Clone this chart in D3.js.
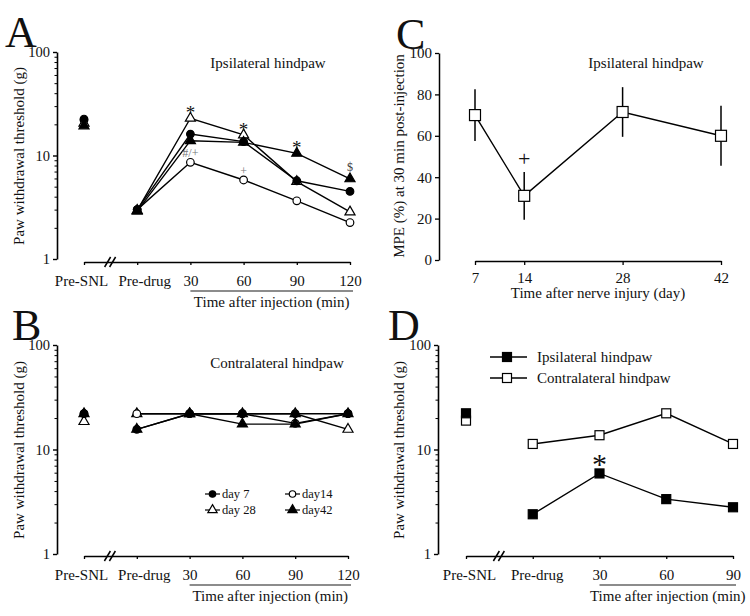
<!DOCTYPE html>
<html><head><meta charset="utf-8">
<script src="https://cdn.jsdelivr.net/npm/d3@7"></script>
<style>
body{margin:0;background:#fff}
svg text{font-family:"Liberation Serif","Times New Roman",serif;fill:#111}
</style>
</head><body>
<svg id="chart" width="750" height="616"></svg>
<script>
// ---------------- DATA ----------------
const catsA = ["Pre-SNL","Pre-drug","30","60","90","120"];
const catsD = ["Pre-SNL","Pre-drug","30","60","90"];
const seriesNames = ["day 7","day14","day 28","day42"];
const seriesSymbols = ["circleFilled","circleOpen","triOpen","triFilled"];

// Panel A: ipsilateral paw withdrawal threshold (g)
const ipsiDay7  = [22.5, 3.0, 16.1, 13.6, 5.7, 4.5];
const ipsiDay14 = [22.0, 3.0, 8.6, 5.8, 3.65, 2.25];
const ipsiDay28 = [20.5, 2.95, 22.9, 15.8, 5.6, 2.85];
const ipsiDay42 = [19.3, 2.9, 13.9, 13.4, 10.5, 5.95];

// Panel B: contralateral paw withdrawal threshold (g)
const contraDay7  = [22.0, 15.6, 22.0, 22.0, 22.0, 22.0];
const contraDay14 = [22.0, 22.0, 22.0, 22.0, 17.8, 22.0];
const contraDay28 = [18.5, 22.0, 22.0, 22.0, 22.0, 15.6];
const contraDay42 = [22.0, 15.6, 22.0, 17.5, 17.5, 22.0];

// Panel C: MPE (%) at 30 min
const daysC = [7, 14, 28, 42];
const mpeC = [70, 31, 71.5, 60];
const semC = [12.5, 11.5, 12, 14.5];

// Panel D
const dIpsi   = [22.2, 2.4, 5.9, 3.35, 2.8];
const dContra = [18.9, 11.3, 13.7, 22.2, 11.3];
const dNames = ["Ipsilateral hindpaw","Contralateral hindpaw"];

// annotations (label, category, series value it sits above)
const annotA = [
  {cat:"30", v:22.9, label:"*", kind:"star"},
  {cat:"60", v:15.8, label:"*", kind:"star"},
  {cat:"90", v:10.5, label:"*", kind:"star"},
  {cat:"120", v:5.95, label:"$", kind:"small"},
  {cat:"30", v:8.6, label:"#/+", kind:"gray"},
  {cat:"60", v:5.8, label:"+", kind:"gray"}
];
const annotC = [{day:14, v:31+11.5, label:"+"}];
const annotD = [{cat:"30", v:5.9, label:"*"}];

const yTicksLog = [1, 10, 100];
const yTicksC = [0, 20, 40, 60, 80, 100];

// ---------------- DRAWING ----------------
const svg = d3.select("#chart");
const FS = 15;

function marker(g, type, x, y, big) {
  const sz = big || 1;
  if (type.startsWith("circle")) {
    g.append("circle").attr("cx", x).attr("cy", y).attr("r", 3.8*sz)
      .attr("fill", type === "circleFilled" ? "#000" : "#fff")
      .attr("stroke", "#000").attr("stroke-width", 1.2);
  } else if (type.startsWith("tri")) {
    g.append("path").attr("d", d3.symbol(d3.symbolTriangle, 44*sz)())
      .attr("transform", `translate(${x},${y})`)
      .attr("fill", type === "triFilled" ? "#000" : "#fff")
      .attr("stroke", "#000").attr("stroke-width", 1.2);
  } else if (type.startsWith("sq")) {
    const s = 9*sz;
    g.append("rect").attr("x", x - s/2).attr("y", y - s/2).attr("width", s).attr("height", s)
      .attr("fill", type === "sqFilled" ? "#000" : "#fff")
      .attr("stroke", "#000").attr("stroke-width", 1.2);
  }
}

function logYAxis(g, y, xAxisPos) {
  const ax = g.append("g").attr("transform", `translate(${xAxisPos},0)`)
    .call(d3.axisLeft(y).tickValues(yTicksLog).tickFormat(d3.format("d")).tickSize(4).tickSizeOuter(0).tickPadding(3));
  ax.selectAll("text").style("font-size", "14.5px");
  ax.select(".domain").attr("stroke-width", 1.6);
  ax.selectAll(".tick line").attr("stroke-width", 1.4);
  const minor = [];
  [1, 10].forEach(b => { for (let k = 2; k <= 9; k++) minor.push(b*k); });
  const mx = g.append("g").attr("transform", `translate(${xAxisPos},0)`)
    .call(d3.axisLeft(y).tickValues(minor).tickFormat("").tickSize(2.5).tickSizeOuter(0));
  mx.select(".domain").remove();
}

function catXAxis(g, x, yPos, cats, titleText, labelShift) {
  const ax = g.append("g").attr("transform", `translate(0,${yPos})`)
    .call(d3.axisBottom(x).tickSize(3).tickSizeOuter(0).tickPadding(10));
  ax.selectAll(".tick text").style("font-size", FS + "px").attr("dx", (d, i) => labelShift[i] || 0);
  ax.select(".domain").attr("stroke-width", 1.4);
  ax.selectAll(".tick line").attr("stroke-width", 1.3);
  // axis break between first and second category
  const mxp = (x(cats[0]) + x(cats[1])) / 2;
  [-3, 2].forEach(o => {
    g.append("line").attr("x1", mxp + o - 3).attr("y1", yPos + 5)
      .attr("x2", mxp + o + 3).attr("y2", yPos - 5)
      .attr("stroke", "#000").attr("stroke-width", 1.5);
  });
  // underline for injection time labels
  const x0 = x(cats[2]), x1 = x(cats[cats.length - 1]) + 3;
  g.append("line").attr("x1", x0).attr("x2", x1).attr("y1", yPos + 29).attr("y2", yPos + 29)
    .attr("stroke", "#666").attr("stroke-width", 1.6);
  g.append("text").attr("x", (x0 + x1) / 2).attr("y", yPos + 45)
    .attr("text-anchor", "middle").style("font-size", FS + "px").text(titleText);
}

function yTitle(g, cx, cy, t) {
  g.append("text").attr("transform", `translate(${cx},${cy}) rotate(-90)`)
    .attr("text-anchor", "middle").style("font-size", FS + "px").text(t);
}

function panelLetter(x, y, t) {
  svg.append("text").attr("x", x).attr("y", y).style("font-size", "44px").text(t);
}

function seriesPanel(g, x, y, seriesVals, cats) {
  const line = d3.line().x((d, i) => x(cats[i + 1])).y(d => y(d));
  seriesVals.forEach(vals => {
    g.append("path").datum(vals.slice(1)).attr("d", line)
      .attr("fill", "none").attr("stroke", "#000").attr("stroke-width", 1.4);
  });
  const order = [2, 1, 0, 3];
  order.forEach(si => {
    seriesVals[si].forEach((v, i) => marker(g, seriesSymbols[si], x(cats[i]), y(v)));
  });
}

// ----- Panel A -----
{
  const g = svg.append("g");
  const x = d3.scalePoint().domain(catsA).range([84, 350]);
  const y = d3.scaleLog().domain([1, 100]).range([259, 52]);
  logYAxis(g, y, 57);
  catXAxis(g, x, 262, catsA, "Time after injection (min)", [-3, 7]);
  yTitle(g, 24, 156, "Paw withdrawal threshold (g)");
  seriesPanel(g, x, y, [ipsiDay7, ipsiDay14, ipsiDay28, ipsiDay42], catsA);
  annotA.forEach(a => {
    const t = g.append("text").attr("x", x(a.cat)).attr("text-anchor", "middle").text(a.label);
    if (a.kind === "star") t.attr("y", y(a.v) + 1).style("font-size", "19px");
    else if (a.kind === "small") t.attr("y", y(a.v) - 8).style("font-size", "12px").style("fill", "#3a3a3a");
    else t.attr("y", y(a.v) - 5).style("font-size", "12px").style("fill", "#777");
  });
  g.append("text").attr("x", 268).attr("y", 68).attr("text-anchor", "middle")
    .style("font-size", FS + "px").text("Ipsilateral hindpaw");
  panelLetter(5, 47, "A");
}

// ----- Panel B -----
{
  const g = svg.append("g");
  const x = d3.scalePoint().domain(catsA).range([84, 348]);
  const y = d3.scaleLog().domain([1, 100]).range([554, 345]);
  logYAxis(g, y, 57);
  catXAxis(g, x, 556, catsA, "Time after injection (min)", [-3, 7]);
  yTitle(g, 24, 450, "Paw withdrawal threshold (g)");
  seriesPanel(g, x, y, [contraDay7, contraDay14, contraDay28, contraDay42], catsA);
  g.append("text").attr("x", 277).attr("y", 368).attr("text-anchor", "middle")
    .style("font-size", FS + "px").text("Contralateral hindpaw");
  // legend 2x2
  const lx = [205, 285], ly = [494, 510];
  seriesNames.forEach((n, i) => {
    const cx = lx[i % 2], cy = ly[Math.floor(i / 2)];
    g.append("line").attr("x1", cx).attr("x2", cx + 15).attr("y1", cy).attr("y2", cy)
      .attr("stroke", "#000").attr("stroke-width", 1.2);
    marker(g, seriesSymbols[i], cx + 7.5, cy, 0.85);
    g.append("text").attr("x", cx + 17).attr("y", cy + 4).style("font-size", "12.5px").text(n);
  });
  panelLetter(12, 340, "B");
}

// ----- Panel C -----
{
  const g = svg.append("g");
  const x = d3.scaleLinear().domain([7, 42]).range([475, 721]);
  const y = d3.scaleLinear().domain([0, 100]).range([260, 53]);
  const ay = g.append("g").attr("transform", "translate(439,0)")
    .call(d3.axisLeft(y).tickValues(yTicksC).tickSize(4).tickSizeOuter(0).tickPadding(3));
  ay.selectAll("text").style("font-size", FS + "px");
  ay.select(".domain").attr("stroke-width", 1.5);
  ay.selectAll(".tick line").attr("stroke-width", 1.3);
  const ax = g.append("g").attr("transform", "translate(0,261)")
    .call(d3.axisBottom(x).tickValues(daysC).tickFormat(d3.format("d")).tickSize(4).tickSizeOuter(0).tickPadding(7));
  ax.selectAll("text").style("font-size", FS + "px");
  ax.select(".domain").attr("stroke-width", 1.5);
  ax.selectAll(".tick line").attr("stroke-width", 1.3);
  g.append("text").attr("x", 598).attr("y", 298).attr("text-anchor", "middle")
    .style("font-size", FS + "px").text("Time after nerve injury (day)");
  yTitle(g, 404, 156, "MPE (%) at 30 min post-injection");
  daysC.forEach((d, i) => {
    g.append("line").attr("x1", x(d)).attr("x2", x(d))
      .attr("y1", y(mpeC[i] - semC[i])).attr("y2", y(mpeC[i] + semC[i]))
      .attr("stroke", "#000").attr("stroke-width", 1.5);
  });
  g.append("path").datum(mpeC).attr("d", d3.line().x((d, i) => x(daysC[i])).y(d => y(d)))
    .attr("fill", "none").attr("stroke", "#000").attr("stroke-width", 1.4);
  daysC.forEach((d, i) => marker(g, "sqOpen", x(d), y(mpeC[i]), 1.22));
  annotC.forEach(a => {
    g.append("text").attr("x", x(a.day)).attr("y", y(a.v) - 6).attr("text-anchor", "middle")
      .style("font-size", "22px").text(a.label);
  });
  g.append("text").attr("x", 646).attr("y", 68).attr("text-anchor", "middle")
    .style("font-size", FS + "px").text("Ipsilateral hindpaw");
  panelLetter(396, 49, "C");
}

// ----- Panel D -----
{
  const g = svg.append("g");
  const x = d3.scalePoint().domain(catsD).range([466, 733]);
  const y = d3.scaleLog().domain([1, 100]).range([554, 345]);
  logYAxis(g, y, 438);
  catXAxis(g, x, 556, catsD, "Time after injection (min)", [3, 4]);
  yTitle(g, 404, 450, "Paw withdrawal threshold (g)");
  const line = d3.line().x((d, i) => x(catsD[i + 1])).y(d => y(d));
  [dContra, dIpsi].forEach(vals => {
    g.append("path").datum(vals.slice(1)).attr("d", line)
      .attr("fill", "none").attr("stroke", "#000").attr("stroke-width", 1.4);
  });
  dContra.forEach((v, i) => marker(g, "sqOpen", x(catsD[i]), y(v)));
  dIpsi.forEach((v, i) => marker(g, "sqFilled", x(catsD[i]), y(v)));
  annotD.forEach(a => {
    g.append("text").attr("x", x(a.cat)).attr("y", y(a.v) + 1).attr("text-anchor", "middle")
      .style("font-size", "30px").text(a.label);
  });
  const types = ["sqFilled", "sqOpen"];
  dNames.forEach((n, i) => {
    const cy = 357 + i * 21;
    g.append("line").attr("x1", 490).attr("x2", 527).attr("y1", cy).attr("y2", cy)
      .attr("stroke", "#000").attr("stroke-width", 1.3);
    marker(g, types[i], 507, cy);
    g.append("text").attr("x", 537).attr("y", cy + 5).style("font-size", FS + "px").text(n);
  });
  panelLetter(388, 340, "D");
}
</script>
</body></html>
